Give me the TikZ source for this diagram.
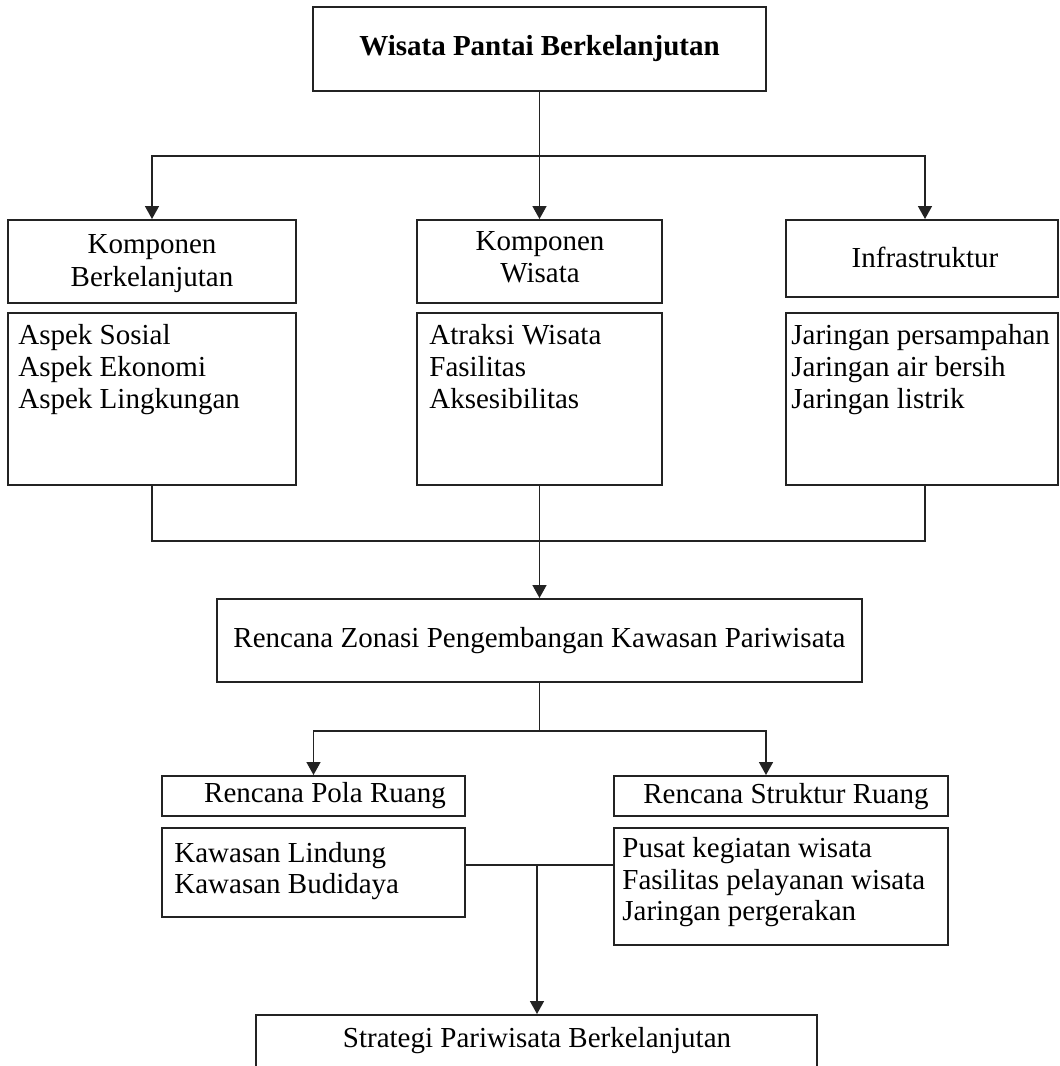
\documentclass[tikz,border=0pt]{standalone}
\usepackage{fontspec}
\setmainfont{Liberation Serif}
\usetikzlibrary{arrows.meta,fit}
\definecolor{ink}{RGB}{35,35,35}
\begin{document}
\begin{tikzpicture}[x=0.5pt,y=-0.5pt,
  box/.style={draw=ink, line width=1pt, inner sep=0pt},
  txt/.style={font=\fontsize{14.5}{16}\selectfont, inner sep=0pt, text=black},
  lt/.style={txt, anchor=base west},
  ct/.style={txt, anchor=base},
  conn/.style={draw=ink, line width=0.8pt},
  arr/.style={conn, -{Triangle[width=7pt,length=6.5pt]}}]
\useasboundingbox (0,0) rectangle (1060,1066);
\clip (0,0) rectangle (1060,1066);
\fill[white] (0,0) rectangle (1060,1066);

% top
\node[box, fit={(313,7) (766,91)}] (top) {};
\node[ct, font=\fontsize{14.5}{16}\selectfont\bfseries] (ttop) at (539.5,55) {Wisata Pantai Berkelanjutan};

% headers
\node[box, fit={(8,220) (296,303)}] (h1) {};
\node[ct] (h1a) at (152,253) {Komponen};
\node[ct] (h1b) at (152,286) {Berkelanjutan};
\node[box, fit={(417,220) (662,303)}] (h2) {};
\node[ct] (h2a) at (540,250) {Komponen};
\node[ct] (h2b) at (540,282) {Wisata};
\node[box, fit={(786,220) (1058,297)}] (h3) {};
\node[ct] (h3a) at (925,267) {Infrastruktur};

% bodies
\node[box, fit={(8,313) (296,485)}] (b1) {};
\node[lt] (b1a) at (18,344) {Aspek Sosial};
\node[lt] (b1b) at (18,376) {Aspek Ekonomi};
\node[lt] (b1c) at (18,408) {Aspek Lingkungan};
\node[box, fit={(417,313) (662,485)}] (b2) {};
\node[lt] (b2a) at (429,344) {Atraksi Wisata};
\node[lt] (b2b) at (429,376) {Fasilitas};
\node[lt] (b2c) at (429,408) {Aksesibilitas};
\node[box, fit={(786,313) (1058,485)}] (b3) {};
\node[lt] (b3a) at (791,344) {Jaringan persampahan};
\node[lt] (b3b) at (791,376) {Jaringan air bersih};
\node[lt] (b3c) at (791,408) {Jaringan listrik};

% zonasi
\node[box, fit={(217,599) (862,682)}] (z) {};
\node[ct] (za) at (539.5,647) {Rencana Zonasi Pengembangan Kawasan Pariwisata};

% pola / struktur
\node[box, fit={(162,776) (465,816)}] (pola) {};
\node[ct] (polaa) at (325,802) {Rencana Pola Ruang};
\node[box, fit={(614,776) (948,816)}] (str) {};
\node[lt] (stra) at (643,803) {Rencana Struktur Ruang};
\node[box, fit={(162,828) (465,917)}] (kaw) {};
\node[lt] (kawa) at (174,862) {Kawasan Lindung};
\node[lt] (kawb) at (174,893) {Kawasan Budidaya};
\node[box, fit={(614,828) (948,945)}] (pus) {};
\node[lt] (pusa) at (622,857) {Pusat kegiatan wisata};
\node[lt] (pusb) at (622,889) {Fasilitas pelayanan wisata};
\node[lt] (pusc) at (622,920) {Jaringan pergerakan};

% strategi
\node[box, fit={(256,1015) (817,1090)}] (strat) {};
\node[ct] (strata) at (537,1047) {Strategi Pariwisata Berkelanjutan};

% connectors
\coordinate (br) at (539.5,156);
\draw[conn] (top.south) -- (br);
\draw[arr] (br) -| (h1.north);
\draw[arr] (br) -- (h2.north);
\draw[arr] (br) -| ([xshift=1.5pt]h3.north);

\coordinate (mg) at (539.5,541);
\draw[conn] (b1.south) |- (mg) -| ([xshift=1.5pt]b3.south);
\draw[conn] (b2.south) -- (mg);
\draw[arr] (mg) -- (z.north);

\coordinate (sp) at (539.5,731);
\draw[conn] (z.south) -- (sp);
\draw[arr] (sp) -| (pola.north);
\draw[arr] (sp) -| ([xshift=-7.5pt]str.north);

\coordinate (jn) at (537,865);
\draw[conn] (kaw.east |- jn) -- (pus.west |- jn);
\draw[arr] (jn) -- (strat.north -| jn);
\end{tikzpicture}
\end{document}
